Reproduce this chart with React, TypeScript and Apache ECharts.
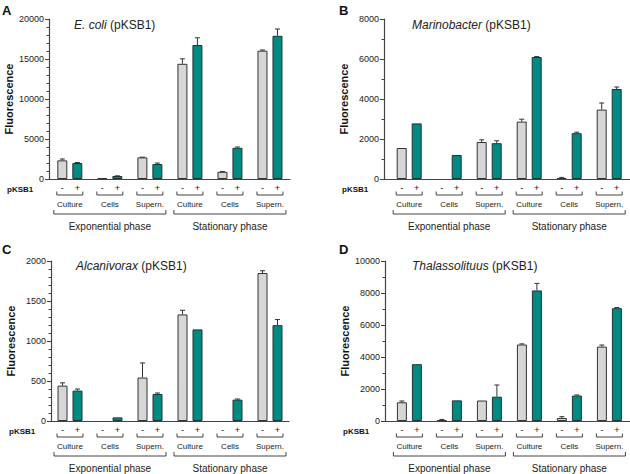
import React, { useEffect, useRef } from "react";
import * as echarts from "echarts";

const FONT = "'Liberation Sans', Arial, Helvetica, sans-serif";

const groups = ["Culture", "Cells", "Supern.", "Culture", "Cells", "Supern."];
const phases = ["Exponential phase", "Stationary phase"];
const phaseSpans = [[0, 2], [3, 5]];
const signs = ["-", "+"];
const letters = ["A", "B", "C", "D"];
const species = ["E. coli", "Marinobacter", "Alcanivorax", "Thalassolituus"];
const yMax = [20000, 8000, 2000, 10000];
const yInterval = [5000, 2000, 500, 2000];
const minorSplits = [5, 2, 5, 2];

// E. coli
const ecoliMinus = [2330, 100, 2700, 14400, 900, 16040];
const ecoliMinusErr = [170, 0, 30, 620, 40, 90];
const ecoliPlus = [2000, 375, 1875, 16750, 3900, 17900];
const ecoliPlusErr = [60, 20, 120, 900, 100, 850];
// Marinobacter
const marinoMinus = [1550, 0, 1850, 2870, 50, 3470];
const marinoMinusErr = [0, 0, 110, 120, 30, 330];
const marinoPlus = [2780, 1200, 1790, 6100, 2290, 4500];
const marinoPlusErr = [0, 0, 120, 20, 50, 100];
// Alcanivorax
const alcaMinus = [442, 0, 543, 1332, 0, 1850];
const alcaMinusErr = [35, 0, 183, 52, 0, 28];
const alcaPlus = [380, 45, 338, 1145, 267, 1198];
const alcaPlusErr = [20, 0, 12, 0, 8, 70];
// Thalassolituus
const thalMinus = [1170, 60, 1280, 4780, 190, 4650];
const thalMinusErr = [80, 40, 0, 40, 80, 100];
const thalPlus = [3550, 1290, 1520, 8160, 1590, 7050];
const thalPlusErr = [0, 0, 730, 440, 40, 40];

const minusVals = [ecoliMinus, marinoMinus, alcaMinus, thalMinus];
const minusErrs = [ecoliMinusErr, marinoMinusErr, alcaMinusErr, thalMinusErr];
const plusVals = [ecoliPlus, marinoPlus, alcaPlus, thalPlus];
const plusErrs = [ecoliPlusErr, marinoPlusErr, alcaPlusErr, thalPlusErr];

// layout
const grids = [
  { left: 49, top: 19, width: 241, height: 160 },
  { left: 384, top: 19, width: 246, height: 160 },
  { left: 51, top: 261, width: 238, height: 160 },
  { left: 385, top: 261, width: 245, height: 160 },
];
const xMin = [-0.52, -0.63, -0.475, -0.61];
const xMax = [5.5, 5.52, 5.475, 5.515];
const letterPos = [
  [2, 4],
  [339, 4],
  [2, 243],
  [339, 243],
];
const titlePos = [
  [74, 19],
  [412, 19],
  [76, 260],
  [412, 260],
];

const GRAY = "#d6d6d6";
const TEAL = "#008a82";
const EDGE = "#333333";
const AXIS = "#444444";
const TXT = "#222222";

function buildOption() {
  const title: any[] = [];
  const xAxis: any[] = [];
  const yAxis: any[] = [];
  const series: any[] = [];

  for (let p = 0; p < 4; p++) {
    title.push({
      text: letters[p],
      left: letterPos[p][0],
      top: letterPos[p][1],
      padding: 0,
      textStyle: { fontSize: 13, fontWeight: "bold", color: "#111", fontFamily: FONT },
    });
    title.push({
      text: "{i|" + species[p] + "} (pKSB1)",
      left: titlePos[p][0],
      top: titlePos[p][1],
      padding: 0,
      textStyle: {
        fontSize: 12,
        fontWeight: "normal",
        color: TXT,
        fontFamily: FONT,
        rich: { i: { fontStyle: "italic", fontSize: 12, color: TXT, fontFamily: FONT } },
      },
    });

    xAxis.push({
      type: "value",
      gridIndex: p,
      min: xMin[p],
      max: xMax[p],
      axisLine: { show: true, onZero: false, lineStyle: { color: AXIS, width: 1.2 } },
      axisTick: { show: false },
      axisLabel: { show: false },
      splitLine: { show: false },
    });
    yAxis.push({
      type: "value",
      gridIndex: p,
      min: 0,
      max: yMax[p],
      interval: yInterval[p],
      axisLine: { show: true, onZero: false, lineStyle: { color: AXIS, width: 1.2 } },
      axisTick: { show: true, length: 4, lineStyle: { color: AXIS } },
      minorTick: { show: true, splitNumber: minorSplits[p], length: 2.5, lineStyle: { color: AXIS } },
      splitLine: { show: false },
      axisLabel: { fontSize: 9, color: TXT, margin: 5, fontFamily: FONT, formatter: (v: number) => String(v) },
      name: "Fluorescence",
      nameLocation: "middle",
      nameGap: 35,
      nameTextStyle: { fontSize: 11, fontWeight: "bold", color: "#111", fontFamily: FONT },
    });

    const barBase = {
      type: "bar",
      xAxisIndex: p,
      yAxisIndex: p,
      barWidth: 10,
      barGap: "50%",
      z: 2,
    };
    series.push({
      ...barBase,
      name: "minus" + p,
      data: minusVals[p].map((v, k) => [k, v === 0 ? "-" : v]),
      itemStyle: { color: GRAY, borderColor: EDGE, borderWidth: 1 },
    });
    series.push({
      ...barBase,
      name: "plus" + p,
      data: plusVals[p].map((v, k) => [k, v === 0 ? "-" : v]),
      itemStyle: { color: TEAL, borderColor: "#1f3533", borderWidth: 1 },
    });

    // error bars
    const errData: number[][] = [];
    minusVals[p].forEach((v, k) => errData.push([k, v, minusErrs[p][k], 0]));
    plusVals[p].forEach((v, k) => errData.push([k, v, plusErrs[p][k], 1]));
    series.push({
      type: "custom",
      xAxisIndex: p,
      yAxisIndex: p,
      z: 3,
      silent: true,
      encode: { x: 0, y: 1 },
      data: errData,
      renderItem: (params: any, api: any) => {
        const x = api.value(0);
        const v = api.value(1);
        const e = api.value(2);
        const s = api.value(3);
        if (!e) return { type: "group", children: [] };
        const p0 = api.coord([x, v]);
        const p1 = api.coord([x, v + e]);
        const cx = p0[0] + (s === 0 ? -7.5 : 7.5);
        return {
          type: "group",
          children: [
            { type: "line", shape: { x1: cx, y1: p0[1], x2: cx, y2: p1[1] }, style: { stroke: EDGE, lineWidth: 1 } },
            { type: "line", shape: { x1: cx - 2.5, y1: p1[1], x2: cx + 2.5, y2: p1[1] }, style: { stroke: EDGE, lineWidth: 1 } },
          ],
        };
      },
    });

    // group annotations under the axis
    const panel = p;
    series.push({
      type: "custom",
      xAxisIndex: p,
      yAxisIndex: p,
      z: 3,
      silent: true,
      clip: false,
      encode: { x: 0, y: 1 },
      data: groups.map((g, k) => [k, 0]),
      renderItem: (params: any, api: any) => {
        const k = params.dataIndex;
        const o = api.coord([api.value(0), 0]);
        const cx = o[0];
        const y0 = o[1];
        const children: any[] = [
          { type: "text", style: { text: signs[0], x: cx - 7.5, y: y0 + 9, align: "center", verticalAlign: "middle", font: `9px ${FONT}`, fill: TXT } },
          { type: "text", style: { text: signs[1], x: cx + 7.5, y: y0 + 8.5, align: "center", verticalAlign: "middle", font: `9px ${FONT}`, fill: TXT } },
          {
            type: "polyline",
            shape: { points: [[cx - 13, y0 + 12.5], [cx - 13, y0 + 16], [cx + 13, y0 + 16], [cx + 13, y0 + 12.5]] },
            style: { stroke: AXIS, lineWidth: 1, fill: "none" },
          },
          { type: "text", style: { text: groups[k], x: cx, y: y0 + 25, align: "center", verticalAlign: "middle", font: `8px ${FONT}`, fill: TXT } },
        ];
        if (k === 0) {
          const origin = api.coord([xMin[panel], 0]);
          children.push({
            type: "text",
            style: { text: "pKSB1", x: origin[0] - 42, y: y0 + 10, align: "left", verticalAlign: "middle", font: `bold 8px ${FONT}`, fill: "#111" },
          });
        }
        return { type: "group", children };
      },
    });

    // phase brackets
    series.push({
      type: "custom",
      xAxisIndex: p,
      yAxisIndex: p,
      z: 3,
      silent: true,
      clip: false,
      encode: { x: 0 },
      data: phaseSpans,
      renderItem: (params: any, api: any) => {
        const a = api.coord([api.value(0), 0]);
        const b = api.coord([api.value(1), 0]);
        const l = a[0] - 16;
        const r = b[0] + 16;
        const y0 = a[1];
        return {
          type: "group",
          children: [
            {
              type: "polyline",
              shape: { points: [[l, y0 + 31], [l, y0 + 35], [r, y0 + 35], [r, y0 + 31]] },
              style: { stroke: AXIS, lineWidth: 1, fill: "none" },
            },
            {
              type: "text",
              style: { text: phases[params.dataIndex], x: (l + r) / 2, y: y0 + 47, align: "center", verticalAlign: "middle", font: `10px ${FONT}`, fill: TXT },
            },
          ],
        };
      },
    });
  }

  return {
    animation: false,
    backgroundColor: "#ffffff",
    title,
    grid: grids.map((g) => ({ ...g, containLabel: false })),
    xAxis,
    yAxis,
    series,
  };
}

export default function App() {
  const ref = useRef<HTMLDivElement>(null);
  useEffect(() => {
    if (!ref.current) return;
    const chart = echarts.init(ref.current, undefined, { renderer: "svg" });
    chart.setOption(buildOption() as any);
    return () => chart.dispose();
  }, []);
  return (
    <div
      ref={ref}
      style={{ position: "fixed", left: 0, top: 0, width: 630, height: 474, background: "#fff" }}
    />
  );
}
